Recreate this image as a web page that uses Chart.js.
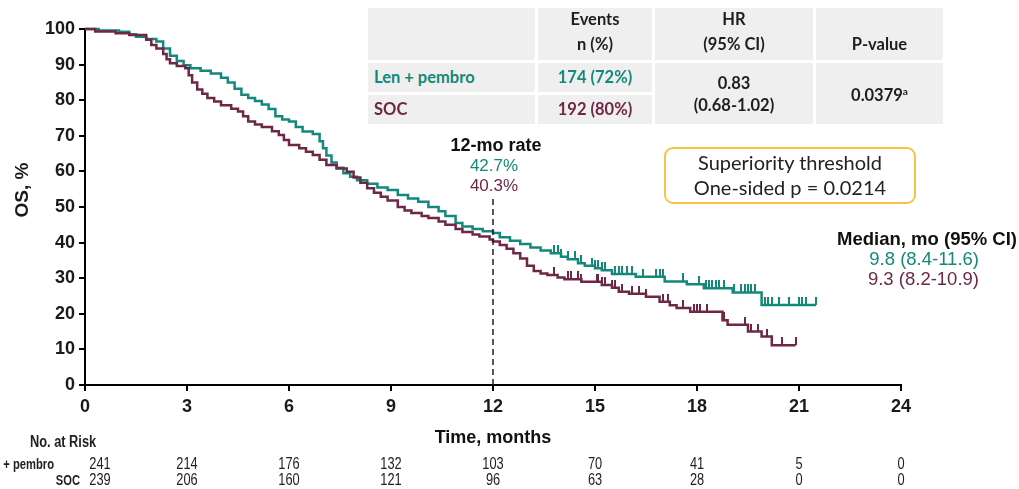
<!DOCTYPE html>
<html>
<head>
<meta charset="utf-8">
<title>Overall survival</title>
<script src="https://cdn.jsdelivr.net/npm/chart.js@4.4.1/dist/chart.umd.min.js"></script>
<style>
  body { margin: 0; background: #fff; }
  .wrap { position: relative; width: 1019px; height: 489px; overflow: hidden; }
  #osChart { position: absolute; left: 0; top: 0; }
  .cell {
    position: absolute;
    background: #efefef;
    display: flex;
    flex-direction: column;
    align-items: center;
    justify-content: center;
    font-family: Lato, "Open Sans", sans-serif;
    font-weight: 700;
    font-size: 16.5px;
    line-height: 25px;
    color: #1e1e1e;
  }
  .cell.left { align-items: flex-start; padding-left: 6px; box-sizing: border-box; }
  .teal { color: #14887a; }
  .maroon { color: #6e2744; }
  .threshold {
    position: absolute;
    left: 664px; top: 147px; width: 252px; height: 57px;
    box-sizing: border-box;
    border: 2px solid #f6c445;
    border-radius: 9px;
    font-family: Lato, "Open Sans", sans-serif;
    font-size: 20px;
    line-height: 25px;
    color: #222;
    text-align: center;
    padding-top: 1px;
  }
  sup { font-size: 10px; vertical-align: 6px; }
</style>
</head>
<body>
<div class="wrap">
  <canvas id="osChart" width="1019" height="489"></canvas>

  <!-- events / HR / p-value table -->
  <div class="cell" style="left:368px;top:8px;width:167px;height:52px;"></div>
  <div class="cell" style="left:538px;top:8px;width:114px;height:52px;padding-bottom:4px;box-sizing:border-box;"><span>Events</span><span>n (%)</span></div>
  <div class="cell" style="left:655px;top:8px;width:158px;height:52px;padding-bottom:4px;box-sizing:border-box;"><span>HR</span><span>(95% CI)</span></div>
  <div class="cell" style="left:816px;top:8px;width:127px;height:52px;justify-content:flex-end;padding-bottom:3px;box-sizing:border-box;"><span>P-value</span></div>
  <div class="cell left teal" style="left:368px;top:63px;width:167px;height:29px;">Len + pembro</div>
  <div class="cell teal" style="left:538px;top:63px;width:114px;height:29px;">174 (72%)</div>
  <div class="cell left maroon" style="left:368px;top:95px;width:167px;height:29px;">SOC</div>
  <div class="cell maroon" style="left:538px;top:95px;width:114px;height:29px;">192 (80%)</div>
  <div class="cell" style="left:655px;top:63px;width:158px;height:61px;line-height:22px;"><span>0.83</span><span>(0.68-1.02)</span></div>
  <div class="cell" style="left:816px;top:63px;width:127px;height:61px;"><span>0.0379<sup>a</sup></span></div>

  <div class="threshold">Superiority threshold<br>One-sided p = 0.0214</div>
</div>

<script>
// Kaplan-Meier steps (months, % surviving)
const lenTimes = [0, 0.4, 1.0, 1.3, 1.5, 1.8, 2.1, 2.3, 2.5, 2.7, 2.9, 3.1, 3.4, 3.7, 4.0, 4.2, 4.4, 4.6, 4.8, 5.0,
  5.2, 5.4, 5.6, 5.8, 6.0, 6.2, 6.4, 6.7, 6.9, 7.0, 7.1, 7.25, 7.4, 7.6, 7.8, 8.0, 8.3, 8.6, 8.9, 9.2,
  9.5, 9.8, 10.1, 10.4, 10.6, 10.9, 11.1, 11.4, 11.7, 12.0, 12.2, 12.5, 12.8, 13.1, 13.4, 13.7, 14.0, 14.2, 14.5, 14.7,
  15.0, 15.2, 15.5, 16.2, 17.05, 17.7, 18.2, 19.05, 19.9, 21.5];
const lenSurv = [100, 99.6, 99.2, 98.5, 97.8, 97.2, 96.5, 94.5, 92.5, 91, 89.8, 89, 88.3, 87.5, 86.3, 85, 83.2, 81.5, 80.6, 79.8,
  78.8, 77.5, 75.5, 74.6, 74, 72.5, 71.2, 70.5, 68.5, 66.5, 64.5, 62.5, 61, 59.5, 58.5, 57.5, 56.5, 55.5, 54.8, 53.4,
  52.4, 51.5, 50, 48.8, 47.5, 45.5, 44.5, 43.8, 43.2, 42.7, 41.5, 40.5, 39.6, 38.6, 37.8, 37, 36, 35.3, 34.2, 33.5,
  32.8, 32.2, 31.2, 30.4, 29.1, 28.3, 27.2, 26, 22.5, 22.5];

const socTimes = [0, 0.3, 0.9, 1.3, 1.8, 1.95, 2.1, 2.3, 2.4, 2.5, 2.7, 2.95, 3.05, 3.15, 3.3, 3.45, 3.6, 3.8, 4.0, 4.3,
  4.5, 4.65, 4.8, 5.0, 5.2, 5.5, 5.7, 5.85, 6.0, 6.3, 6.5, 6.7, 6.9, 7.1, 7.4, 7.7, 7.9, 8.1, 8.3, 8.5,
  8.7, 8.9, 9.2, 9.4, 9.6, 9.9, 10.1, 10.4, 10.6, 10.9, 11.1, 11.4, 11.6, 11.9, 12.0, 12.2, 12.4, 12.6, 12.8, 13.0,
  13.2, 13.4, 13.6, 13.9, 14.1, 14.6, 15.2, 15.5, 15.7, 16.0, 16.5, 16.9, 17.2, 17.4, 17.8, 18.75, 18.9, 19.5, 19.9, 20.2, 20.9];
const socSurv = [100, 99.3, 98.8, 98.3, 97, 95.5, 94.5, 93, 91.5, 90.4, 89.6, 89, 87, 85, 83, 81.8, 80.6, 79.6, 78.6, 77.6,
  76.8, 75.5, 74, 73.2, 72.5, 71.3, 70.2, 68.8, 67.4, 66.5, 65.5, 64.6, 63.3, 61.8, 60.8, 59.9, 58.3, 56.8, 55.3, 54,
  52.9, 51.8, 50, 49, 48.3, 47.5, 46.9, 45.9, 45, 43.8, 43, 42.3, 41.7, 40.9, 40.3, 39.3, 38.3, 37, 35.5, 33.5,
  32, 31.3, 30.9, 30.2, 29.7, 29, 28.1, 27.3, 26.2, 25.6, 24.8, 23.4, 22.4, 21.6, 20.6, 18.2, 16.9, 15, 13.6, 11.2, 11.2];

// censored patients (months)
const lenCensor = [13.8, 13.9, 14.0, 14.2, 14.4, 14.6, 14.9, 15.0, 15.1, 15.2, 15.3, 15.6, 15.7, 15.8, 15.95, 16.1,
  16.4, 16.8, 16.9, 17.0, 17.6, 18.05, 18.25, 18.35, 18.45, 18.55, 18.65, 18.8, 19.1, 19.3, 19.4, 19.5, 19.6, 19.7,
  20.0, 20.1, 20.2, 20.4, 20.7, 21.0, 21.1, 21.2, 21.5];
const socCensor = [2.3, 13.8, 14.2, 14.3, 14.5, 14.6, 15.05, 15.1, 15.2, 15.3, 15.5, 15.6, 15.8, 16.1, 16.3, 16.5,
  17.0, 17.15, 17.6, 17.9, 18.0, 18.1, 18.3, 18.8, 19.4, 19.5, 19.6, 19.8, 20.05, 20.5, 20.9];

// numbers at risk
const riskMonths = [0, 3, 6, 9, 12, 15, 18, 21, 24];
const lenRisk = [241, 214, 176, 132, 103, 70, 41, 5, 0];
const socRisk = [239, 206, 160, 121, 96, 63, 28, 0, 0];

const rateMonth = 12;
const lenRate = 42.7;
const socRate = 40.3;

const TEAL = '#14887a';
const MAROON = '#6e2744';

function toPoints(times, surv) {
  return times.map((t, i) => ({ x: t, y: surv[i] }));
}

// survival value in force at time t
function survAt(times, surv, t) {
  let v = surv[0];
  for (let i = 0; i < times.length; i++) {
    if (times[i] <= t) v = surv[i];
  }
  return v;
}

// small vertical tick above the curve for censor marks
function censorTick(color) {
  const c = document.createElement('canvas');
  c.width = 2;
  c.height = 16;
  const g = c.getContext('2d');
  g.fillStyle = color;
  g.fillRect(0, 0, 2, 8);
  return c;
}

// condensed text for the at-risk table
function narrowText(ctx, text, x, y, align) {
  const sx = 0.8;
  const w = ctx.measureText(text).width * sx;
  let left = x;
  if (align === 'center') left = x - w / 2;
  if (align === 'right') left = x - w;
  ctx.save();
  ctx.translate(left, y);
  ctx.scale(sx, 1);
  ctx.textAlign = 'left';
  ctx.fillText(text, 0, 0);
  ctx.restore();
}

const annotations = {
  id: 'annotations',
  afterDraw(chart) {
    const { ctx } = chart;
    const x = chart.scales.x;
    ctx.save();
    const sans = '"Liberation Sans", Arial, sans-serif';

    // y axis title
    ctx.save();
    ctx.translate(23, 190);
    ctx.rotate(-Math.PI / 2);
    ctx.font = 'bold 19px ' + sans;
    ctx.fillStyle = '#1a1a1a';
    ctx.textAlign = 'center';
    ctx.textBaseline = 'middle';
    ctx.fillText('OS, %', 0, 0);
    ctx.restore();

    // 12-month rate label
    const rx = x.getPixelForValue(rateMonth) + 3;
    ctx.textAlign = 'center';
    ctx.textBaseline = 'middle';
    ctx.font = 'bold 18px ' + sans;
    ctx.fillStyle = '#111';
    ctx.fillText('12-mo rate', rx, 146);
    ctx.font = '17px ' + sans;
    ctx.fillStyle = TEAL;
    ctx.fillText(lenRate.toFixed(1) + '%', rx - 2, 166);
    ctx.fillStyle = MAROON;
    ctx.fillText(socRate.toFixed(1) + '%', rx - 2, 186);

    // medians
    ctx.textAlign = 'right';
    ctx.font = 'bold 18.5px ' + sans;
    ctx.fillStyle = '#111';
    ctx.fillText('Median, mo (95% CI)', 1017, 240);
    ctx.font = '18.5px ' + sans;
    ctx.fillStyle = TEAL;
    ctx.fillText('9.8 (8.4-11.6)', 979, 260);
    ctx.fillStyle = MAROON;
    ctx.fillText('9.3 (8.2-10.9)', 979, 280);

    // numbers at risk
    ctx.fillStyle = '#222';
    ctx.font = 'bold 16px ' + sans;
    narrowText(ctx, 'No. at Risk', 30, 443, 'left');
    ctx.font = 'bold 14px ' + sans;
    narrowText(ctx, 'Len + pembro', 54, 465, 'right');
    narrowText(ctx, 'SOC', 80, 481, 'right');
    ctx.font = '16px ' + sans;
    riskMonths.forEach((m, i) => {
      const px = x.getPixelForValue(m) + (i === 0 ? 15 : 0);
      narrowText(ctx, String(lenRisk[i]), px, 465, 'center');
      narrowText(ctx, String(socRisk[i]), px, 481, 'center');
    });

    ctx.restore();
  }
};

new Chart(document.getElementById('osChart'), {
  type: 'line',
  data: {
    datasets: [
      {
        label: 'rate line',
        data: [{ x: rateMonth, y: 0 }, { x: rateMonth, y: 53 }],
        borderColor: '#222',
        borderWidth: 1.5,
        borderDash: [6, 4],
        pointRadius: 0
      },
      {
        label: 'SOC',
        data: toPoints(socTimes, socSurv),
        borderColor: MAROON,
        borderWidth: 2.5,
        stepped: true,
        pointRadius: 0,
        clip: false
      },
      {
        label: 'Len + pembro',
        data: toPoints(lenTimes, lenSurv),
        borderColor: TEAL,
        borderWidth: 2.5,
        stepped: true,
        pointRadius: 0,
        clip: false
      },
      {
        label: 'SOC censored',
        data: socCensor.map(t => ({ x: t, y: survAt(socTimes, socSurv, t) })),
        showLine: false,
        pointStyle: censorTick(MAROON),
        pointRadius: 4,
        clip: false
      },
      {
        label: 'Len + pembro censored',
        data: lenCensor.map(t => ({ x: t, y: survAt(lenTimes, lenSurv, t) })),
        showLine: false,
        pointStyle: censorTick(TEAL),
        pointRadius: 4,
        clip: false
      }
    ]
  },
  options: {
    responsive: false,
    animation: false,
    devicePixelRatio: 1,
    layout: { padding: { left: 0, top: 29, right: 118, bottom: 0 } },
    plugins: {
      legend: { display: false },
      tooltip: { enabled: false }
    },
    scales: {
      x: {
        type: 'linear',
        min: 0,
        max: 24,
        afterFit: s => { s.height = 104; },
        border: { color: '#000', width: 2 },
        grid: { drawOnChartArea: false, drawTicks: true, tickLength: 6, color: '#000', lineWidth: 2 },
        ticks: {
          stepSize: 3,
          padding: 5,
          color: '#1a1a1a',
          font: { family: '"Liberation Sans", Arial, sans-serif', size: 18, weight: 'bold' }
        },
        title: {
          display: true,
          text: 'Time, months',
          color: '#111',
          padding: { top: 0, bottom: 40 },
          font: { family: '"Liberation Sans", Arial, sans-serif', size: 18, weight: 'bold' }
        }
      },
      y: {
        min: 0,
        max: 100,
        afterFit: s => { s.width = 85; },
        border: { color: '#000', width: 2 },
        grid: { drawOnChartArea: false, drawTicks: true, tickLength: 6, color: '#000', lineWidth: 2 },
        ticks: {
          stepSize: 10,
          padding: 4,
          color: '#1a1a1a',
          font: { family: '"Liberation Sans", Arial, sans-serif', size: 18, weight: 'bold' }
        }
      }
    }
  },
  plugins: [annotations]
});
</script>
</body>
</html>
